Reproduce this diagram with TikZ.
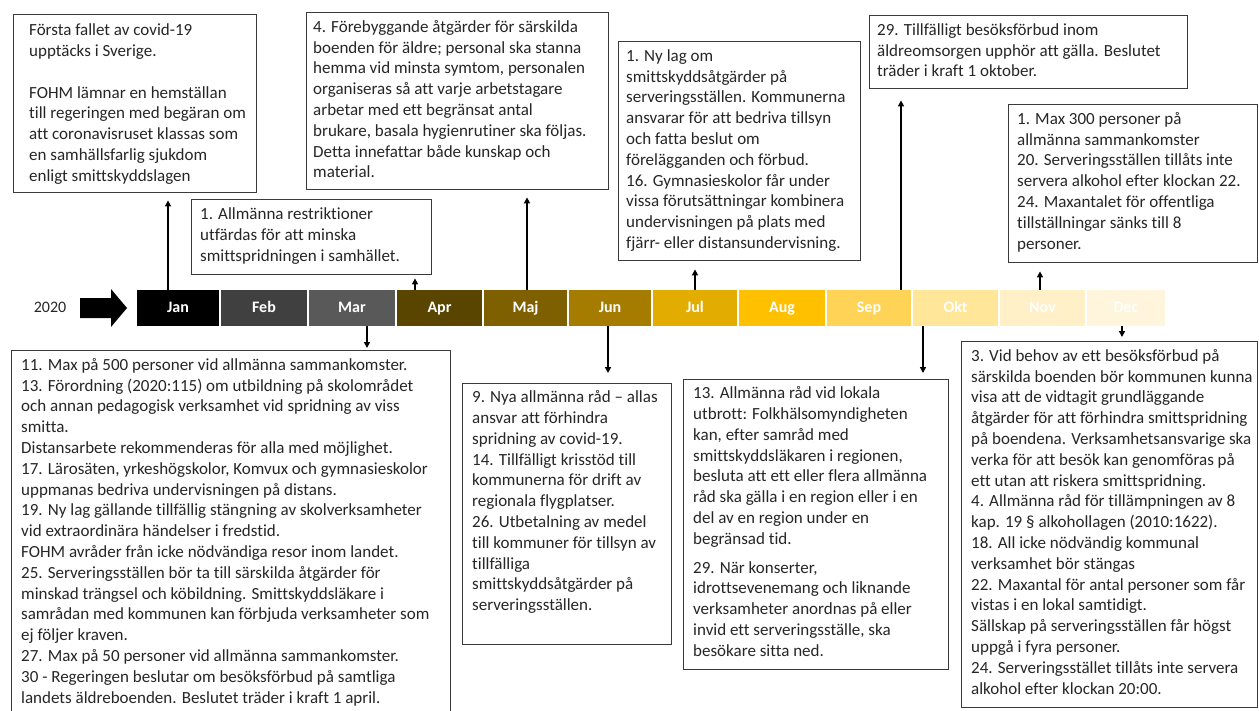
\documentclass[tikz,border=0pt]{standalone}
\usepackage{fontspec}
\setmainfont{Carlito}[Ligatures=NoCommon]
\usetikzlibrary{arrows.meta}
\definecolor{textc}{HTML}{262626}
\definecolor{bordc}{HTML}{3A3A3A}
\definecolor{cJan}{HTML}{000000}
\definecolor{cFeb}{HTML}{404040}
\definecolor{cMar}{HTML}{595959}
\definecolor{cApr}{HTML}{594400}
\definecolor{cMaj}{HTML}{7F6000}
\definecolor{cJun}{HTML}{A67C00}
\definecolor{cJul}{HTML}{E2AC00}
\definecolor{cAug}{HTML}{FFC000}
\definecolor{cSep}{HTML}{FFD456}
\definecolor{cOkt}{HTML}{FFE699}
\definecolor{cNov}{HTML}{FFF0C8}
\definecolor{cDec}{HTML}{FFF5DC}
\tikzset{
  evbox/.style={draw=bordc, line width=1.4pt, fill=white, anchor=north west, inner sep=0pt},
  txt/.style={anchor=north west, inner sep=0pt, align=left, text=textc, font=\fontsize{17}{20.8}\selectfont},
  mon/.style={minimum height=36pt, inner sep=0pt, text height=11pt, text depth=3pt, text=white, font=\fontsize{16}{18}\selectfont\bfseries},
  arr/.style={line width=1.5pt, draw=black, -{Triangle[length=6pt,width=6pt]}}
}
\begin{document}
\begin{tikzpicture}[x=1pt,y=-1pt]
\useasboundingbox (0,0) rectangle (1259,710);
% year and arrow
\node[text=textc, font=\fontsize{16}{18}\selectfont] (yr) at (50,307) {2020};
\fill[black] (80,298) -- (111,298) -- (111,289) -- (127,308) -- (111,327) -- (111,318) -- (80,318) -- cycle;
% months
\node[mon, fill=cJan, minimum width=82pt] (jan) at (178,308) {Jan};
\node[mon, fill=cFeb, minimum width=86pt] (feb) at (264,308) {Feb};
\node[mon, fill=cMar, minimum width=86pt] (mar) at (352,308) {Mar};
\node[mon, fill=cApr, minimum width=85pt] (apr) at (439.5,308) {Apr};
\node[mon, fill=cMaj, minimum width=83pt] (maj) at (525.5,308) {Maj};
\node[mon, fill=cJun, minimum width=82pt] (jun) at (610,308) {Jun};
\node[mon, fill=cJul, minimum width=84pt] (jul) at (695,308) {Jul};
\node[mon, fill=cAug, minimum width=86pt] (aug) at (782,308) {Aug};
\node[mon, fill=cSep, minimum width=84pt] (sep) at (869,308) {Sep};
\node[mon, fill=cOkt, minimum width=85pt] (okt) at (955.5,308) {Okt};
\node[mon, fill=cNov, minimum width=85pt] (nov) at (1042.5,308) {Nov};
\node[mon, fill=cDec, minimum width=78pt] (dec) at (1126,308) {Dec};
% boxes
\node[evbox, minimum width=243pt, minimum height=178pt] (A) at (13,14) {};
\node[evbox, minimum width=302pt, minimum height=177pt] (B) at (306,12) {};
\node[evbox, minimum width=240pt, minimum height=75pt] (C) at (191,199) {};
\node[evbox, minimum width=242pt, minimum height=219pt] (D) at (618,41) {};
\node[evbox, minimum width=318pt, minimum height=73pt] (E) at (869,15) {};
\node[evbox, minimum width=249pt, minimum height=158pt] (F) at (1008,104) {};
\node[evbox, minimum width=439pt, minimum height=370pt] (G) at (11,350) {};
\node[evbox, minimum width=209pt, minimum height=261pt] (H) at (462,383) {};
\node[evbox, minimum width=265pt, minimum height=290pt] (I) at (683,379) {};
\node[evbox, minimum width=296pt, minimum height=366pt] (J) at (961,341) {};
% texts
\node[txt] (tA) at ([xshift=16pt,yshift=-7pt]A.north west) {\strut Första fallet av covid-19\\
upptäcks i Sverige.\\[20.8pt]
FOHM lämnar en hemställan\\
till regeringen med begäran om\\
att coronavisruset klassas som\\
en samhällsfarlig sjukdom\\
enligt smittskyddslagen};
\node[txt] (tB) at ([xshift=7pt,yshift=-5.5pt]B.north west) {\strut 4. Förebyggande åtgärder för särskilda\\
boenden för äldre; personal ska stanna\\
hemma vid minsta symtom, personalen\\
organiseras så att varje arbetstagare\\
arbetar med ett begränsat antal\\
brukare, basala hygienrutiner ska följas.\\
Detta innefattar både kunskap och\\
material.};
\node[txt] (tC) at ([xshift=9pt,yshift=-6pt]C.north west) {\strut 1. Allmänna restriktioner\\
utfärdas för att minska\\
smittspridningen i samhället.};
\node[txt] (tD) at ([xshift=8pt,yshift=-5.5pt]D.north west) {\strut 1. Ny lag om\\
smittskyddsåtgärder på\\
serveringsställen. Kommunerna\\
ansvarar för att bedriva tillsyn\\
och fatta beslut om\\
förelägganden och förbud.\\
16. Gymnasieskolor får under\\
vissa förutsättningar kombinera\\
undervisningen på plats med\\
fjärr- eller distansundervisning.};
\node[txt] (tE) at ([xshift=8pt,yshift=-5.5pt]E.north west) {\strut 29. Tillfälligt besöksförbud inom\\
äldreomsorgen upphör att gälla. Beslutet\\
träder i kraft 1 oktober.};
\node[txt] (tF) at ([xshift=9pt,yshift=-5.5pt]F.north west) {\strut 1. Max 300 personer på\\
allmänna sammankomster\\
20. Serveringsställen tillåts inte\\
servera alkohol efter klockan 22.\\
24. Maxantalet för offentliga\\
tillställningar sänks till 8\\
personer.};
\node[txt] (tG) at ([xshift=10pt,yshift=-5.5pt]G.north west) {\strut 11. Max på 500 personer vid allmänna sammankomster.\\
13. Förordning (2020:115) om utbildning på skolområdet\\
och annan pedagogisk verksamhet vid spridning av viss\\
smitta.\\
Distansarbete rekommenderas för alla med möjlighet.\\
17. Lärosäten, yrkeshögskolor, Komvux och gymnasieskolor\\
uppmanas bedriva undervisningen på distans.\\
19. Ny lag gällande tillfällig stängning av skolverksamheter\\
vid extraordinära händelser i fredstid.\\
FOHM avråder från icke nödvändiga resor inom landet.\\
25. Serveringsställen bör ta till särskilda åtgärder för\\
minskad trängsel och köbildning. Smittskyddsläkare i\\
samrådan med kommunen kan förbjuda verksamheter som\\
ej följer kraven.\\
27. Max på 50 personer vid allmänna sammankomster.\\
30 - Regeringen beslutar om besöksförbud på samtliga\\
landets äldreboenden. Beslutet träder i kraft 1 april.};
\node[txt] (tH) at ([xshift=10pt,yshift=-5pt]H.north west) {\strut 9. Nya allmänna råd – allas\\
ansvar att förhindra\\
spridning av covid-19.\\
14. Tillfälligt krisstöd till\\
kommunerna för drift av\\
regionala flygplatser.\\
26. Utbetalning av medel\\
till kommuner för tillsyn av\\
tillfälliga\\
smittskyddsåtgärder på\\
serveringsställen.};
\node[txt] (tI) at ([xshift=10pt,yshift=-5pt]I.north west) {\strut 13. Allmänna råd vid lokala\\
utbrott: Folkhälsomyndigheten\\
kan, efter samråd med\\
smittskyddsläkaren i regionen,\\
besluta att ett eller flera allmänna\\
råd ska gälla i en region eller i en\\
del av en region under en\\
begränsad tid.\\[8pt]
29. När konserter,\\
idrottsevenemang och liknande\\
verksamheter anordnas på eller\\
invid ett serveringsställe, ska\\
besökare sitta ned.};
\node[txt] (tJ) at ([xshift=10pt,yshift=-5.5pt]J.north west) {\strut 3. Vid behov av ett besöksförbud på\\
särskilda boenden bör kommunen kunna\\
visa att de vidtagit grundläggande\\
åtgärder för att förhindra smittspridning\\
på boendena. Verksamhetsansvarige ska\\
verka för att besök kan genomföras på\\
ett utan att riskera smittspridning.\\
4. Allmänna råd för tillämpningen av 8\\
kap. 19 § alkohollagen (2010:1622).\\
18. All icke nödvändig kommunal\\
verksamhet bör stängas\\
22. Maxantal för antal personer som får\\
vistas i en lokal samtidigt.\\
Sällskap på serveringsställen får högst\\
uppgå i fyra personer.\\
24. Serveringsstället tillåts inte servera\\
alkohol efter klockan 20:00.};
% connectors
\coordinate (xJan) at (168,0);
\coordinate (xApr) at (415,0);
\coordinate (xMaj) at (527,0);
\coordinate (xJul) at (695,0);
\coordinate (xSep) at (901,0);
\coordinate (xNov) at (1040,0);
\coordinate (xMar) at (367,0);
\coordinate (xJun) at (608,0);
\coordinate (xOkt) at (923,0);
\coordinate (xDec) at (1122,0);
\draw[arr, shorten >=7pt] (xJan |- jan.north) -- (xJan |- A.south);
\draw[arr, shorten >=3pt] (xApr |- apr.north) -- (xApr |- C.south);
\draw[arr, shorten >=7pt] (xMaj |- maj.north) -- (xMaj |- B.south);
\draw[arr, shorten >=8pt] (xJul |- jul.north) -- (xJul |- D.south);
\draw[arr, shorten >=11pt] (xSep |- sep.north) -- (xSep |- E.south);
\draw[arr, shorten >=8pt] (xNov |- nov.north) -- (xNov |- F.south);
\draw[arr, shorten >=2pt] (xMar |- mar.south) -- (xMar |- G.north);
\draw[arr, shorten >=10pt] (xJun |- jun.south) -- (xJun |- H.north);
\draw[arr, shorten >=6pt] (xOkt |- okt.south) -- (xOkt |- I.north);
\draw[arr, shorten >=4pt] (xDec |- dec.south) -- (xDec |- J.north);
\end{tikzpicture}
\end{document}
